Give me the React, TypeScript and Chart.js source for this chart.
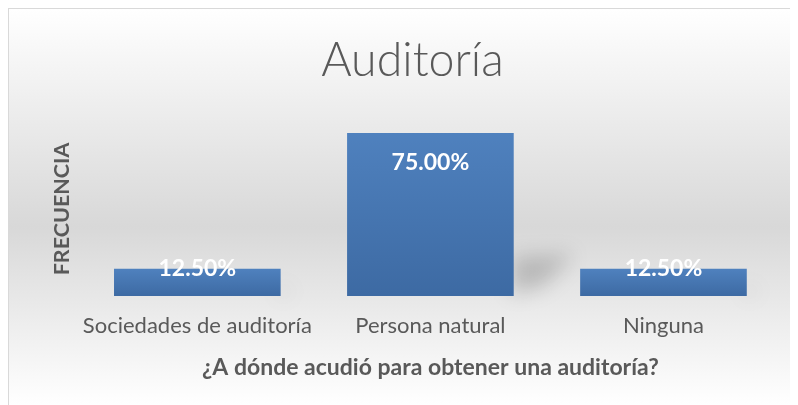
import React, { useEffect, useRef } from "react";
import { Chart, registerables } from "chart.js";

Chart.register(...registerables);

const categories = ["Sociedades de auditoría", "Persona natural", "Ninguna"];
const values = [0.125, 0.75, 0.125];
const valueLabels = ["12.50%", "75.00%", "12.50%"];
const chartTitle = "Auditoría";
const xTitle = "¿A dónde acudió para obtener una auditoría?";
const yTitle = "FRECUENCIA";

const FONT = "Lato, 'Open Sans', sans-serif";
const TEXT = "#595959";

const bgPlugin = {
  id: "bgGradient",
  beforeDraw(chart: any) {
    const { ctx, width, height } = chart;
    const g = ctx.createLinearGradient(0, 0, 0, height);
    g.addColorStop(0, "#ffffff");
    g.addColorStop(0.55, "#d8d8d8");
    g.addColorStop(1, "#ffffff");
    ctx.save();
    ctx.fillStyle = g;
    ctx.fillRect(0, 0, width, height);
    ctx.restore();
  },
};

const shadowPlugin = {
  id: "barShadow",
  beforeDatasetsDraw(chart: any) {
    const { ctx } = chart;
    const meta = chart.getDatasetMeta(0);
    ctx.save();
    ctx.filter = "blur(10px)";
    ctx.fillStyle = "rgba(0,0,0,0.18)";
    meta.data.forEach((bar: any) => {
      const right = bar.x + bar.width / 2;
      const h = bar.base - bar.y;
      const s = h / 164;
      ctx.beginPath();
      ctx.moveTo(right - 2, bar.base - 2);
      ctx.lineTo(right - 2, bar.base - 40 * s);
      ctx.lineTo(right + 60 * s, bar.base - 42 * s);
      ctx.lineTo(right + 30 * s, bar.base - 10 * s);
      ctx.closePath();
      ctx.fill();
    });
    ctx.restore();
  },
};

const labelPlugin = {
  id: "valueLabels",
  afterDatasetsDraw(chart: any) {
    const { ctx } = chart;
    const meta = chart.getDatasetMeta(0);
    ctx.save();
    ctx.fillStyle = "#ffffff";
    ctx.font = `bold 23px ${FONT}`;
    ctx.textAlign = "center";
    ctx.textBaseline = "middle";
    meta.data.forEach((bar: any, i: number) => {
      const y = Math.min(bar.y + 30, bar.base - 27);
      ctx.fillText(valueLabels[i], bar.x, y);
    });
    ctx.restore();
  },
};

export default function App() {
  const ref = useRef<HTMLCanvasElement | null>(null);

  useEffect(() => {
    document.documentElement.style.overflow = "hidden";
    const canvas = ref.current;
    if (!canvas) return;
    const chart = new Chart(canvas, {
      type: "bar",
      data: {
        labels: categories,
        datasets: [
          {
            data: values,
            backgroundColor: (c: any) => {
              const chartObj = c.chart;
              const ys = chartObj.scales && chartObj.scales.y;
              if (!ys || c.raw === undefined) return "#4a7ab8";
              const top = ys.getPixelForValue(c.raw);
              const base = ys.getPixelForValue(0);
              if (!isFinite(top) || !isFinite(base) || top === base) return "#4a7ab8";
              const g = chartObj.ctx.createLinearGradient(0, top, 0, base);
              g.addColorStop(0, "#4f81be");
              g.addColorStop(1, "#3d6aa3");
              return g;
            },
            borderWidth: 0,
            categoryPercentage: 0.715,
            barPercentage: 1,
          },
        ],
      },
      options: {
        responsive: true,
        maintainAspectRatio: false,
        animation: false,
        layout: { padding: { left: 36, right: 18, top: 0, bottom: 25.6 } },
        plugins: {
          legend: { display: false },
          tooltip: { enabled: false },
          title: {
            display: true,
            text: chartTitle,
            color: TEXT,
            font: { family: FONT, size: 46.5, weight: "300" },
            padding: { top: 24.5, bottom: 32.7 },
          },
        },
        scales: {
          x: {
            grid: { display: false, drawTicks: false },
            border: { display: false },
            ticks: {
              color: TEXT,
              font: { family: FONT, size: 22 },
              padding: 17,
              maxRotation: 0,
              autoSkip: false,
            },
            title: {
              display: true,
              text: xTitle,
              color: TEXT,
              font: { family: FONT, size: 23, weight: "bold", lineHeight: 1.0 },
              padding: { top: 0, bottom: 0 },
            },
          },
          y: {
            min: 0,
            max: 0.8,
            grid: { display: false, drawTicks: false },
            border: { display: false },
            ticks: { display: false },
            title: {
              display: true,
              text: yTitle,
              color: TEXT,
              font: { family: FONT, size: 21.5, weight: "bold" },
              padding: { top: 4, bottom: 6 },
            },
          },
        },
      },
      plugins: [bgPlugin, shadowPlugin, labelPlugin],
    });
    return () => chart.destroy();
  }, []);

  return (
    <div
      style={{
        width: 789,
        height: 396,
        borderLeft: "1px solid #d9d9d9",
        borderTop: "1px solid #d9d9d9",
        position: "relative",
      }}
    >
      <canvas ref={ref} />
    </div>
  );
}
